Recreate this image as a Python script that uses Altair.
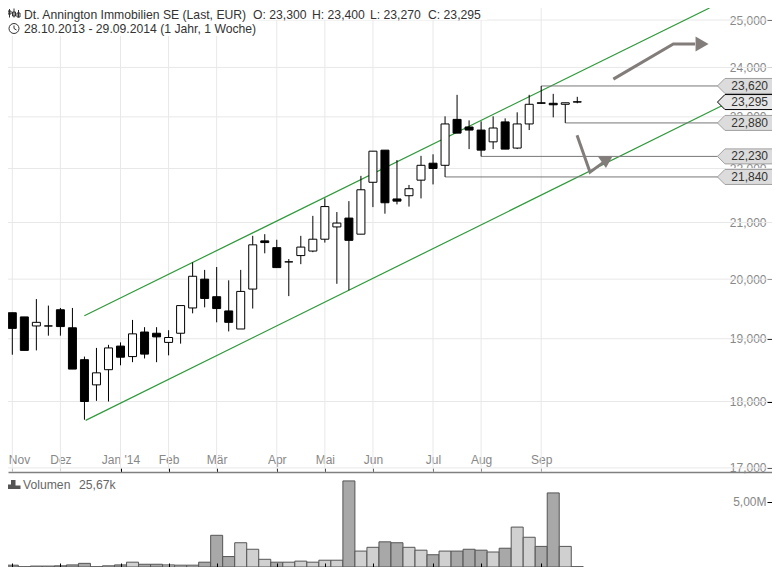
import altair as alt
import pandas as pd

# weekly candles, oldest first (EUR)
opens  = [19.41,19.43,19.36,19.21,19.21,19.48,19.18,18.66,18.26,18.50,18.88,18.71,19.11,19.09,18.94,19.09,19.51,20.00,19.70,19.46,19.16,19.83,20.67,20.55,20.30,20.41,20.49,20.70,20.92,21.08,20.79,21.74,22.35,21.43,21.49,21.78,22.10,22.06,22.95,22.80,22.74,22.51,22.90,22.39,22.86,23.28,23.27,23.25,23.30]
highs  = [19.41,19.43,19.36,19.66,19.55,19.51,19.51,18.71,18.85,18.90,18.94,19.31,19.19,19.19,19.14,19.55,20.29,20.16,20.21,19.98,20.16,20.76,20.79,20.69,20.35,20.76,21.12,21.44,21.19,21.39,21.86,22.33,22.35,22.16,21.69,22.24,22.27,23.01,23.44,22.93,22.91,23.01,22.97,23.09,23.44,23.62,23.46,23.28,23.40]
lows   = [18.84,18.74,18.81,18.81,19.05,19.05,18.51,17.72,18.01,18.00,18.57,18.62,18.68,18.62,18.73,18.92,19.42,19.52,19.27,19.12,19.16,19.50,20.45,20.20,19.71,20.26,20.47,20.64,19.92,19.81,20.79,21.28,21.16,21.33,21.29,21.44,21.70,21.84,22.68,22.37,22.23,22.37,22.37,22.37,22.74,23.26,22.99,22.88,23.27]
closes = [19.25,19.17,18.81,19.27,19.21,19.20,18.51,18.00,18.45,18.85,18.70,19.08,18.75,19.03,19.02,19.55,20.05,19.67,19.50,19.27,19.79,20.60,20.64,20.20,20.30,20.56,20.70,21.29,20.99,20.68,21.60,22.33,21.36,21.39,21.62,22.06,22.00,22.86,22.68,22.74,22.35,22.78,22.37,22.86,23.25,23.27,23.24,23.28,23.295]
volumes = [0.10,0.14,0.02,0.07,0.07,0.09,0.16,0.28,0.02,0.09,0.16,0.37,0.21,0.21,0.16,0.14,0.14,0.37,2.43,0.80,1.86,1.36,0.59,0.37,0.37,0.45,0.37,0.52,0.52,6.60,1.22,1.51,1.93,1.86,1.51,1.29,0.94,1.22,1.22,1.36,1.29,1.15,1.44,3.06,2.28,1.58,5.68,1.58,0.02]
light_volume_weeks = [22]

month_weeks = [1,5,10,14,18,23,27,31,36,40,45]
month_names = ["Nov","Dez","Jan '14","Feb","Mär","Apr","Mai","Jun","Jul","Aug","Sep"]
price_ticks = [17,18,19,20,21,22,23,24,25]

channel_upper_i = [6.99,59.0]
channel_upper_p = [19.38,25.26]
channel_lower_i = [7.10,60.7]
channel_lower_p = [17.71,23.30]

level_values = [23.62,22.88,22.23,21.84]
level_starts = [45,47,40,37]
level_texts  = ["23,620","22,880","22,230","21,840"]
last_value = 23.295
last_text = "23,295"

arrow_up_i = [51.0,55.99,57.8]
arrow_up_p = [23.76,24.49,24.49]
arrow_down_i = [47.98,49.06,50.2]
arrow_down_p = [22.64,21.93,22.12]

title_parts = [("Dt. Annington Immobilien SE (Last, EUR)",24),("O: 23,300",253),("H: 23,400",312),("L: 23,270",370),("C: 23,295",428)]
subtitle = "28.10.2013 - 29.09.2014 (1 Jahr, 1 Woche)"
volume_parts = [("Volumen",23),("25,67k",79)]

# one layered chart: price area down to page y 472, volume area below
W, H, H1 = 764, 559, 464
OFF = 8
FONT = "Liberation Sans"

df = pd.DataFrame({"i":range(len(opens)),"o":opens,"h":highs,"l":lows,"c":closes,"v":[v*1e6 for v in volumes],"z":[0]*len(opens)})
df["top"] = df[["o","c"]].max(axis=1)
df["bot"] = df[["o","c"]].min(axis=1)
df["fill"] = ["#000000" if c<o else "#ffffff" for o,c in zip(opens,closes)]
df["vfill"] = ["#a8a8a8" if (c<o and k not in light_volume_weeks) else "#d0d0d0" for k,(o,c) in enumerate(zip(opens,closes))]

xs = alt.Scale(domain=[0.64,64.2], nice=False, zero=False, padding=0)
ys = alt.Scale(type="log", domain=[16.94,25.26], range=[H1,0], nice=False, zero=False)
vs = alt.Scale(domain=[0,7.284e6], range=[H,H1], nice=False, zero=False)

label_map = "{" + ",".join(f"'{k}':\"{n}\"" for k,n in zip(month_weeks,month_names)) + "}[datum.value]"

def X(f="i:Q"): return alt.X(f, scale=xs, axis=None)
def Y(f): return alt.Y(f, scale=ys, axis=None)

one = pd.DataFrame({"a":[0]})
def deco_path(path, px, py, fill=None, stroke=None, sw=1):
    kw = dict(shape=path, size=4, filled=fill is not None, strokeWidth=sw, opacity=1)
    if fill is not None: kw["fill"] = fill
    if stroke is not None: kw["stroke"] = stroke
    else: kw["strokeWidth"] = 0
    return alt.Chart(one).mark_point(**kw).encode(x=alt.value(px-OFF), y=alt.value(py-OFF))
def deco_text(t, px, py, color="#333333", fs=12.2):
    return alt.Chart(one).mark_text(text=t, align="left", baseline="middle", font=FONT, fontSize=fs, color=color).encode(x=alt.value(px-OFF), y=alt.value(py-OFF))
def white_box(x1,x2,y1,y2):
    return alt.Chart(one).mark_rect(color="#ffffff", opacity=0.85).encode(x=alt.value(x1-OFF), x2=alt.value(x2-OFF), y=alt.value(y1-OFF), y2=alt.value(y2-OFF))

grid_x = alt.Chart(pd.DataFrame({"i":month_weeks})).mark_rule(color="#e8e8e8", strokeWidth=1).encode(
    x=alt.X("i:Q", scale=xs, title=None, axis=alt.Axis(
        orient="top", offset=-H1, values=month_weeks, labelExpr=label_map, grid=False, domain=True,
        domainColor="#808080", domainWidth=1.5, tickColor="#000000", tickSize=4, tickWidth=1,
        labelColor="#888888", labelFont=FONT, labelFontSize=12, labelPadding=2, labelFlush=6, labelFlushOffset=4, title=None)),
    y=alt.value(0), y2=alt.value(H1),
)
grid_y = alt.Chart(pd.DataFrame({"p":price_ticks})).mark_rule(color="#e8e8e8", strokeWidth=1).encode(
    y=alt.Y("p:Q", scale=ys, title=None, axis=alt.Axis(
        orient="right", offset=-5, values=price_ticks, labelExpr="format(datum.value*1000,',')", grid=False, domain=False,
        tickColor="#000000", tickSize=5, tickWidth=1, labelColor="#888888", labelFont=FONT, labelFontSize=12,
        labelAlign="right", labelPadding=-6, title=None)),
)

wicks = alt.Chart(df).mark_rule(color="#000000", strokeWidth=1, clip=True).encode(x=X(), y=Y("l:Q"), y2="h:Q")
bodies = alt.Chart(df).mark_bar(size=8, stroke="#000000", strokeWidth=1, clip=True).encode(
    x=X(), y=Y("bot:Q"), y2="top:Q", fill=alt.Fill("fill:N", scale=None))

def polyline(xsv, ysv, color, sw):
    d = pd.DataFrame({"i":xsv,"p":ysv,"k":range(len(xsv))})
    return alt.Chart(d).mark_line(color=color, strokeWidth=sw, clip=True).encode(x=X(), y=Y("p:Q"), order="k:Q")

up = polyline(channel_upper_i, channel_upper_p, "#2f9a3a", 1.2)
lo = polyline(channel_lower_i, channel_lower_p, "#2f9a3a", 1.2)
a1 = polyline(arrow_up_i, arrow_up_p, "#827c7a", 3)
a2 = polyline(arrow_down_i, arrow_down_p, "#827c7a", 3)
head1 = alt.Chart(pd.DataFrame({"i":[58.38],"p":[24.49]})).mark_point(shape="M -6.5 -7.5 L 6.5 0 L -6.5 7.5 Z", size=4, filled=True, fill="#827c7a", strokeWidth=0, opacity=1).encode(x=X(), y=Y("p:Q"))
head2 = alt.Chart(pd.DataFrame({"i":[50.3],"p":[22.14]})).mark_point(shape="M -7 -4.5 L 7.5 -4.5 L 1 7 Z", size=4, filled=True, fill="#827c7a", strokeWidth=0, opacity=1).encode(x=X(), y=Y("p:Q"))

lv = pd.DataFrame({"p":level_values,"s":level_starts,"t":level_texts,"e":[59.7]*4,"m":[61.95]*4})
levels = alt.Chart(lv).mark_rule(color="#777777", strokeWidth=1, clip=True).encode(x=X("s:Q"), x2="e:Q", y=Y("p:Q"))
TAG = "M -27.5 0 L -20 -7.5 L 30 -7.5 L 30 7.5 L -20 7.5 Z"
tags = alt.Chart(lv).mark_point(shape=TAG, size=4, filled=True, fill="#dcdcdc", stroke="#a0a0a0", strokeWidth=1, opacity=1, clip=True).encode(x=X("m:Q"), y=Y("p:Q"))
tag_text = alt.Chart(lv).mark_text(align="right", baseline="middle", font=FONT, fontSize=12, color="#333333").encode(x=alt.value(760), y=Y("p:Q"), text="t:N")
ld = pd.DataFrame({"p":[last_value],"t":[last_text],"m":[61.95]})
last_tag = alt.Chart(ld).mark_point(shape=TAG, size=4, filled=True, fill="#e6e6e6", stroke="#000000", strokeWidth=1, opacity=1, clip=True).encode(x=X("m:Q"), y=Y("p:Q"))
last_label = alt.Chart(ld).mark_text(align="right", baseline="middle", font=FONT, fontSize=12, color="#333333").encode(x=alt.value(760), y=Y("p:Q"), text="t:N")

CANDLE_ICON = "M -4.5 -4 L -4.5 4.5 M -4.5 -2 L -3 -2 L -3 1 L -6 1 L -6 -2 Z M 0 -4.5 L 0 4.5 M -1.5 -1 L 1.5 -1 L 1.5 3 L -1.5 3 Z M 4.5 -3 L 4.5 4.5 M 3 0 L 6 0 L 6 4 L 3 4 Z"
CLOCK = "M -5 0 A 5 5 0 1 1 5 0 A 5 5 0 1 1 -5 0 M 0 -3 L 0 0 L 2.5 1.5"
VOL_ICON = "M -6.5 4.5 L -6.5 0 L -3 0 L -3 -4.5 L 1.5 -4.5 L 1.5 1 L 6.5 1 L 6.5 4.5 Z"

head_layers = [white_box(8,487,3,20), white_box(8,258,20,36)]
head_layers += [deco_path(CANDLE_ICON, 14, 13, stroke="#333333"), deco_path(CLOCK, 14, 28.5, stroke="#333333")]
head_layers += [deco_text(t,x,14.5) for t,x in title_parts] + [deco_text(subtitle,24,29)]

vol_x = alt.X("i:Q", scale=xs, title=None, axis=alt.Axis(orient="top", offset=-H, values=month_weeks, labels=False, grid=False, domain=False,
    tickColor="#000000", tickSize=4, tickWidth=1, zindex=1, title=None))
vol_y = alt.Y("v:Q", scale=vs, title=None, axis=alt.Axis(orient="right", offset=-5, values=[5e6], labelExpr="'5,00M'", grid=False, domain=False,
    tickColor="#000000", tickSize=5, tickWidth=1, labelColor="#888888", labelFont=FONT, labelFontSize=12, labelAlign="right", labelPadding=-6, title=None))
vol_bars = alt.Chart(df).mark_bar(size=12, stroke="#555555", strokeWidth=1, clip=True).encode(
    x=vol_x, y=vol_y, y2="z:Q", fill=alt.Fill("vfill:N", scale=None))
vol_layers = [vol_bars, deco_path(VOL_ICON, 14, 484.5, fill="#555555")] + [deco_text(t, x, 484.5, color="#666666") for t,x in volume_parts]

chart = alt.layer(grid_x, grid_y, *head_layers, up, lo, levels, wicks, bodies, a1, a2, head1, head2, tags, tag_text, last_tag, last_label, *vol_layers
    ).resolve_scale(x="independent", y="independent").resolve_axis(x="independent", y="independent").properties(
    width=W, height=H, padding=0, background="#ffffff", autosize=alt.AutoSizeParams(type="none")).configure_view(stroke=None)
chart.save("out.html", embed_options={"renderer": "svg", "actions": False})
